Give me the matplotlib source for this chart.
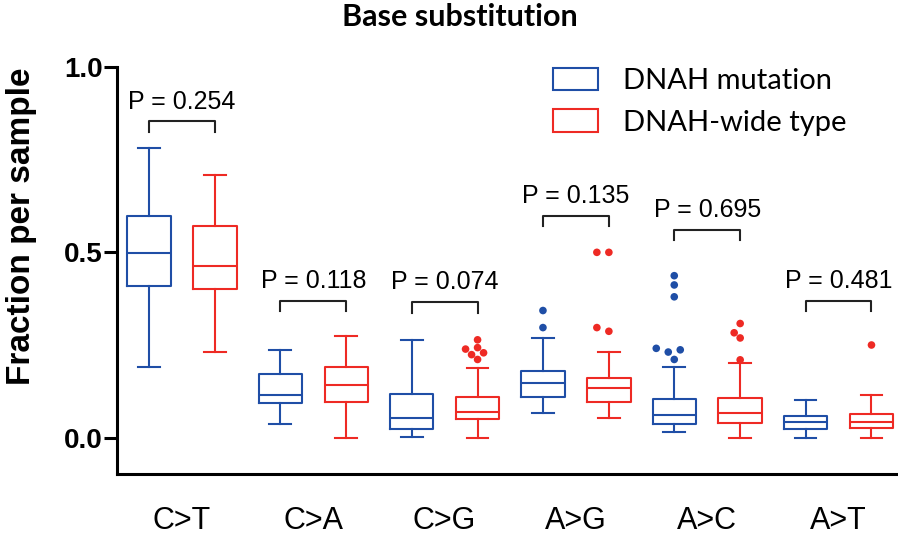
import numpy as np
import matplotlib
matplotlib.use('Agg')
import matplotlib.pyplot as plt
from matplotlib.patches import Patch

categories = ['C>T', 'C>A', 'C>G', 'A>G', 'A>C', 'A>T']

# DNAH mutation group (box statistics)
mutWhisLo = [0.192, 0.037, 0.003, 0.067, 0.014, 0.000]
mutQ1 = [0.409, 0.093, 0.024, 0.109, 0.037, 0.023]
mutMed = [0.499, 0.114, 0.053, 0.147, 0.060, 0.041]
mutQ3 = [0.599, 0.172, 0.118, 0.179, 0.104, 0.059]
mutWhisHi = [0.781, 0.237, 0.264, 0.268, 0.192, 0.102]
mutFliers = [[], [], [], [0.343, 0.297],
             [0.437, 0.412, 0.380, 0.241, 0.237, 0.231, 0.211], []]

# DNAH wide type group
wtWhisLo = [0.232, 0.000, 0.000, 0.053, 0.000, 0.000]
wtQ1 = [0.402, 0.095, 0.051, 0.096, 0.039, 0.026]
wtMed = [0.462, 0.142, 0.068, 0.134, 0.067, 0.041]
wtQ3 = [0.570, 0.190, 0.110, 0.161, 0.106, 0.063]
wtWhisHi = [0.708, 0.273, 0.189, 0.231, 0.201, 0.115]
wtFliers = [[], [], [0.264, 0.243, 0.239, 0.229, 0.224, 0.211],
            [0.500, 0.500, 0.297, 0.287], [0.308, 0.283, 0.269, 0.210], [0.250]]

pValues = ['0.254', '0.118', '0.074', '0.135', '0.695', '0.481']
bracketY = [0.853, 0.369, 0.365, 0.598, 0.561, 0.369]

seriesNames = ['DNAH mutation', 'DNAH-wide type']
blue = '#1f4ea6'
red = '#ee2a24'


def makeStats(lo, q1, med, q3, hi):
    return [dict(whislo=a, q1=b, med=c, q3=d, whishi=e, fliers=[])
            for a, b, c, d, e in zip(lo, q1, med, q3, hi)]


def swarmOffsets(ax, xc, vals, diamPx, stepPx):
    # simple beeswarm: place points one by one, shifting sideways on overlap
    pxPerX = ax.transData.transform((1, 0))[0] - ax.transData.transform((0, 0))[0]
    pxPerY = ax.transData.transform((0, 1))[1] - ax.transData.transform((0, 0))[1]
    placed = []
    xs = []
    for v in sorted(vals):
        yPx = v * pxPerY
        k = 0
        while True:
            n = (k + 1) // 2
            off = 0 if k == 0 else (-n if k % 2 == 1 else n) * stepPx
            ok = all((off - ox) ** 2 + (yPx - oy) ** 2 >= diamPx ** 2 for ox, oy in placed)
            if ok:
                break
            k += 1
        placed.append((off, yPx))
        xs.append((xc + off / pxPerX, v))
    return xs


plt.rcParams['font.family'] = ['Liberation Sans', 'DejaVu Sans']

fig = plt.figure(figsize=(8.98, 5.35), dpi=100)
ax = fig.add_axes([117 / 898, 61 / 535, 781 / 898, 407 / 535])

pos = np.arange(len(categories))
offset = 0.251
boxW = 0.331
lw = 1.5

groups = [
    (makeStats(mutWhisLo, mutQ1, mutMed, mutQ3, mutWhisHi), mutFliers, blue, -offset),
    (makeStats(wtWhisLo, wtQ1, wtMed, wtQ3, wtWhisHi), wtFliers, red, offset),
]

ax.set_xlim(-0.495, 5.453)
ax.set_ylim(-0.098, 1.0)

for stats, fliers, col, dx in groups:
    ax.bxp(stats, positions=pos + dx, widths=boxW, showfliers=False,
           boxprops=dict(color=col, linewidth=lw),
           medianprops=dict(color=col, linewidth=lw),
           whiskerprops=dict(color=col, linewidth=lw),
           capprops=dict(color=col, linewidth=lw),
           capwidths=boxW / 2, manage_ticks=False)
    for i, fl in enumerate(fliers):
        if not fl:
            continue
        pts = np.array(swarmOffsets(ax, pos[i] + dx, fl, 7.5, 6.0))
        ax.scatter(pts[:, 0], pts[:, 1], s=30, color=col, edgecolors='none', zorder=3)

# significance brackets
legH = 0.028
for i, (p, by) in enumerate(zip(pValues, bracketY)):
    x0, x1 = pos[i] - offset, pos[i] + offset
    ax.plot([x0, x0, x1, x1], [by - legH, by, by, by - legH], color='#222222', lw=1.5)
    ax.text(pos[i], by + 0.035, f'P = {p}', ha='center', va='baseline', fontsize=18)

ax.set_xticks(pos)
ax.set_xticklabels(categories, fontsize=22)
ax.tick_params(axis='x', length=0, pad=23)
ax.set_yticks([0, 0.5, 1.0])
ax.set_yticklabels(['0.0', '0.5', '1.0'], fontsize=20, fontweight='bold')
ax.tick_params(axis='y', length=9.5, width=2.2, pad=1)

for side in ['top', 'right']:
    ax.spines[side].set_visible(False)
for side in ['left', 'bottom']:
    ax.spines[side].set_linewidth(2.2)

ax.set_ylabel('Fraction per sample', fontsize=24, fontweight='bold')
ax.yaxis.set_label_coords(-0.1024, 0.608)

handles = [Patch(facecolor='white', edgecolor=blue, linewidth=1.5),
           Patch(facecolor='white', edgecolor=red, linewidth=1.5)]
leg = fig.legend(handles, seriesNames, loc='upper left',
                 bbox_to_anchor=(553 / 898, 1 - 68 / 535), frameon=False,
                 prop={'family': 'Lato', 'size': 21}, handlelength=1.54,
                 handleheight=0.8, handletextpad=0.86, labelspacing=0.52,
                 borderpad=0, borderaxespad=0)

fig.text(0.512, 0.995, 'Base substitution', ha='center', va='top',
         fontsize=22, fontweight='bold', family='Lato')

fig.savefig('out.png', dpi=100)
